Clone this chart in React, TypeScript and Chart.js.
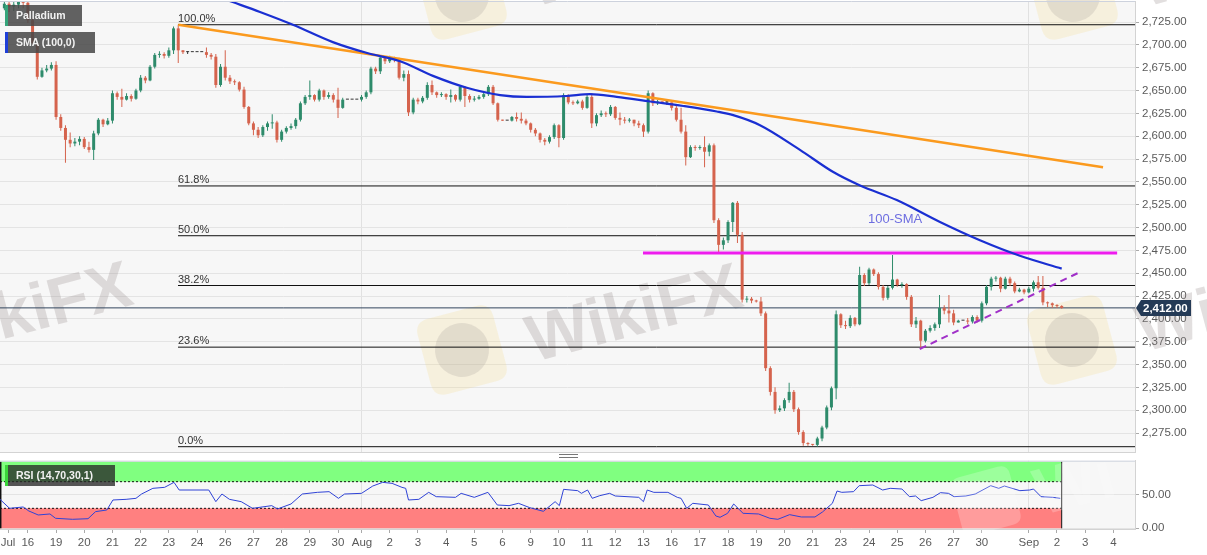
import React, { useEffect, useRef } from 'react';
import { Chart, registerables } from 'chart.js';

Chart.register(...registerables);

const FONT = '"Liberation Sans", Arial, Helvetica, sans-serif';

// ---------------- data (4-hour candles, index = candle number) ----------------
const firstOpen = 2740;
const closes = [
  2745, 2742, 2744, 2748, 2746, 2727, 2702, 2665, 2672, 2674,
  2678, 2621, 2609, 2596, 2592, 2594, 2597, 2588, 2585, 2603,
  2618, 2613, 2617, 2647, 2643, 2640, 2644, 2641, 2650, 2664,
  2661, 2676, 2689, 2690, 2688, 2694, 2718, 2694, 2692, 2692,
  2692, 2692, 2692, 2689, 2687, 2656, 2676, 2664, 2660, 2659,
  2651, 2632, 2614, 2607, 2601, 2610, 2614, 2615, 2596, 2605,
  2609, 2611, 2618, 2636, 2643, 2645, 2640, 2650, 2643, 2645,
  2640, 2631, 2640, 2640, 2640, 2640, 2643, 2648, 2674, 2671,
  2686, 2682, 2685, 2684, 2664, 2668, 2626, 2640, 2638, 2642,
  2656, 2648, 2645, 2646, 2643, 2645, 2640, 2654, 2644, 2640,
  2641, 2643, 2646, 2654, 2636, 2618, 2617, 2617, 2621, 2619,
  2617, 2614, 2607, 2603, 2596, 2594, 2599, 2612, 2598, 2645,
  2637, 2636, 2638, 2631, 2643, 2614, 2623, 2625, 2624, 2632,
  2620, 2618, 2617, 2618, 2614, 2612, 2605, 2647, 2636, 2638,
  2637, 2637, 2631, 2618, 2605, 2577, 2588, 2587, 2588, 2583,
  2590, 2508, 2481, 2486, 2506, 2527, 2492, 2421, 2422, 2420,
  2419, 2406, 2346, 2320, 2300, 2302, 2311, 2320, 2301, 2276,
  2264, 2263, 2262, 2269, 2281, 2303, 2324, 2405, 2393, 2392,
  2401, 2394, 2448, 2439, 2454, 2449, 2435, 2423, 2434, 2443,
  2437, 2438, 2424, 2394, 2398, 2376, 2387, 2390, 2394, 2412,
  2409, 2406, 2396, 2398, 2398, 2397, 2402, 2398, 2417, 2435,
  2444, 2445, 2433, 2444, 2439, 2430, 2432, 2429, 2433, 2440,
  2434, 2418, 2417, 2415, 2414, 2412,
];
const highs = [
  2752, 2750, 2752, 2756, 2755, 2750, 2729, 2703, 2675, 2678,
  2681, 2682, 2624, 2612, 2604, 2598, 2600, 2599, 2594, 2606,
  2620, 2619, 2620, 2650, 2649, 2652, 2647, 2646, 2652, 2667,
  2666, 2678, 2691, 2693, 2692, 2697, 2720, 2722, 2694, 2693,
  2692, 2692, 2692, 2697, 2691, 2690, 2679, 2694, 2667, 2662,
  2660, 2654, 2633, 2616, 2610, 2612, 2616, 2624, 2617, 2607,
  2611, 2614, 2620, 2638, 2645, 2661, 2646, 2652, 2651, 2648,
  2647, 2653, 2642, 2640, 2640, 2640, 2645, 2650, 2676, 2676,
  2688, 2687, 2688, 2687, 2686, 2672, 2672, 2642, 2642, 2644,
  2659, 2661, 2649, 2648, 2647, 2651, 2646, 2656, 2655, 2646,
  2644, 2645, 2648, 2656, 2656, 2637, 2618, 2617, 2622, 2626,
  2626, 2619, 2615, 2609, 2604, 2598, 2601, 2614, 2613, 2647,
  2646, 2639, 2640, 2640, 2645, 2647, 2625, 2628, 2627, 2634,
  2633, 2626, 2621, 2620, 2618, 2617, 2614, 2650, 2648, 2640,
  2638, 2640, 2637, 2633, 2631, 2612, 2590, 2590, 2590, 2600,
  2592, 2592, 2510, 2489, 2508, 2528, 2529, 2495, 2425, 2424,
  2421, 2424, 2408, 2348, 2325, 2305, 2313, 2330, 2322, 2303,
  2278, 2265, 2263, 2271, 2283, 2305, 2326, 2409, 2406, 2398,
  2404, 2402, 2457, 2450, 2456, 2455, 2451, 2437, 2436, 2470,
  2444, 2440, 2439, 2426, 2402, 2399, 2389, 2393, 2396, 2426,
  2415, 2426, 2410, 2399, 2398, 2401, 2404, 2404, 2419, 2437,
  2446, 2447, 2446, 2446, 2446, 2441, 2434, 2433, 2435, 2442,
  2447, 2447, 2419, 2418, 2416, 2415,
];
const lows = [
  2738, 2736, 2737, 2740, 2740, 2724, 2700, 2662, 2664, 2670,
  2672, 2618, 2606, 2571, 2588, 2589, 2590, 2586, 2582, 2574,
  2601, 2610, 2612, 2614, 2640, 2632, 2639, 2638, 2640, 2648,
  2658, 2660, 2674, 2686, 2685, 2686, 2690, 2680, 2690, 2690,
  2692, 2692, 2692, 2686, 2684, 2653, 2654, 2661, 2657, 2656,
  2649, 2630, 2612, 2601, 2598, 2599, 2606, 2608, 2593, 2594,
  2603, 2607, 2608, 2616, 2634, 2640, 2638, 2638, 2640, 2641,
  2637, 2620, 2630, 2640, 2640, 2640, 2638, 2641, 2646, 2668,
  2668, 2679, 2680, 2681, 2662, 2660, 2622, 2624, 2635, 2636,
  2640, 2645, 2642, 2643, 2640, 2637, 2638, 2638, 2632, 2637,
  2638, 2640, 2641, 2644, 2634, 2616, 2617, 2617, 2616, 2616,
  2614, 2612, 2604, 2600, 2593, 2590, 2592, 2597, 2588, 2596,
  2635, 2634, 2635, 2629, 2630, 2609, 2611, 2621, 2621, 2622,
  2618, 2612, 2614, 2615, 2611, 2609, 2599, 2603, 2633, 2634,
  2636, 2634, 2628, 2616, 2603, 2568, 2576, 2584, 2585, 2566,
  2578, 2505, 2473, 2476, 2483, 2495, 2483, 2418, 2418, 2417,
  2418, 2403, 2343, 2316, 2296, 2298, 2299, 2308, 2298, 2273,
  2261, 2261, 2261, 2260, 2266, 2279, 2300, 2312, 2390, 2389,
  2390, 2392, 2393, 2436, 2437, 2447, 2432, 2420, 2421, 2432,
  2435, 2434, 2421, 2391, 2390, 2368, 2374, 2385, 2387, 2390,
  2405, 2396, 2393, 2396, 2398, 2394, 2395, 2396, 2396, 2415,
  2431, 2441, 2429, 2432, 2436, 2428, 2429, 2427, 2428, 2430,
  2432, 2415, 2413, 2412, 2412, 2411,
];

// 100-period SMA at a set of candle positions
const smaIdx = [41.6, 47.4, 54.4, 61.4, 69.9, 77.2, 84.2, 91.2, 98.4, 105.5, 111.1, 119.6, 124.6, 130.3, 137.4, 144.5, 151.6, 155.1, 160.8, 169.3, 176.3, 182.1, 189.9, 199.1, 207.6, 216.1, 225.0];
const smaVal = [2760, 2749, 2736, 2722, 2703, 2691, 2682, 2666, 2653, 2645, 2643, 2644, 2646, 2643, 2638, 2633, 2627, 2623, 2612, 2585, 2561, 2546, 2530, 2506, 2486, 2469, 2455];

// RSI(14)
const rsiIdx = [-0.93, 1.1, 4.0, 5.2, 7.2, 9.7, 10.9, 14.5, 17.8, 19.4, 21.8, 23.1, 25.9, 28.0, 29.2, 31.6, 34.1, 36.1, 37.2, 43.5, 45.0, 46.3, 47.9, 50.4, 52.8, 56.9, 58.1, 61.0, 63.4, 66.6, 69.1, 71.1, 72.4, 76.0, 78.4, 80.5, 82.5, 84.6, 85.4, 86.0, 88.2, 90.3, 91.9, 96.0, 97.2, 100.0, 102.9, 104.9, 107.4, 109.4, 111.8, 114.7, 117.2, 118.1, 119.0, 122.0, 122.8, 124.1, 125.1, 126.7, 128.8, 130.0, 135.0, 136.0, 136.8, 138.2, 141.2, 143.2, 144.0, 145.2, 146.5, 149.8, 151.4, 152.3, 153.9, 155.2, 157.2, 160.5, 162.9, 164.6, 167.1, 169.6, 172.5, 174.1, 176.2, 177.2, 178.2, 180.7, 181.9, 184.8, 186.9, 188.5, 191.0, 192.6, 193.9, 195.1, 197.6, 199.2, 200.9, 202.1, 204.6, 206.6, 209.9, 211.6, 212.8, 216.1, 218.2, 219.0, 220.6, 223.1, 224.7];
const rsiVal = [43.5, 30, 32, 26, 20, 21.5, 15, 13.5, 14.4, 25, 27.5, 42.5, 43.5, 45, 51.5, 60, 61.5, 69, 57.5, 57.5, 40, 51.5, 43.5, 40, 30, 34, 29, 36.5, 51.5, 54, 55, 45, 51.5, 52.5, 63.5, 69, 67.5, 61.5, 60, 42.5, 43.5, 54, 47.5, 46.5, 52.5, 46.5, 54, 35, 34, 37.5, 31, 25.5, 40, 34, 58.5, 56.5, 52.5, 57.5, 45, 49, 52.5, 48.5, 46.5, 40, 57.5, 54, 54, 46.5, 45, 30, 37.5, 35, 18.5, 16.5, 22.5, 36.5, 22.5, 21.5, 15, 13.5, 20.5, 17, 17, 24.5, 37.5, 56, 54, 55, 64, 65, 57.5, 60, 59, 47.5, 48.5, 41.5, 46.5, 53.5, 52.5, 47.5, 48.5, 51.5, 64, 60, 63.5, 56.5, 57.5, 59, 47.5, 46.5, 45];

// Fibonacci retracement
const fibLevels = [2722, 2545.5, 2491, 2436.5, 2369, 2260];
const fibLabels = ['100.0%', '61.8%', '50.0%', '38.2%', '23.6%', '0.0%'];
const fibStartIdx = 36.95;

// drawn lines [candle index, price]
const trendLine = [[37, 2722], [233.8, 2566]];
const resistLine = [[135.9, 2472], [236.8, 2472]];
const supportLine = [[194.8, 2367], [228.4, 2450]];
const smaLabelAt = [183.8, 2509];
const lastPrice = 2412;

// axes
const yTicks = [2275, 2300, 2325, 2350, 2375, 2400, 2425, 2450, 2475, 2500, 2525, 2550, 2575, 2600, 2625, 2650, 2675, 2700, 2725];
const rsiTicks = [0, 50];
const rsiUpper = 70;
const rsiLower = 30;
const rsiBandEnd = 225;
const dateTickPos = [0.78, 5, 11, 17, 23, 29, 35, 41, 47, 53, 59, 65, 71, 76.1, 82, 88, 94, 100, 106, 112, 118, 124, 130, 136, 142, 148, 154, 160, 166, 172, 178, 184, 190, 196, 202, 208, 218, 224, 230, 236];
const dateTickLbl = ['Jul', '16', '19', '20', '21', '22', '23', '24', '26', '27', '28', '29', '30', 'Aug', '2', '3', '4', '5', '6', '9', '10', '11', '12', '13', '16', '17', '18', '19', '20', '21', '23', '24', '25', '26', '27', '30', 'Sep', '2', '3', '4'];
const monthTickPos = [76.1, 218];
const xMin = -0.93;
const xMax = 240.6;
const priceMin = 2254.2;
const priceMax = 2748;
const rsiMin = -1.05;
const rsiMax = 101.5;

// ---------------- styling ----------------
const UP = '#2e8b6b';
const DOWN = '#d5634d';
const FLAT = '#333333';
const PLOT_BG = '#f7f7f7';
const GRID = '#e4e4e4';
const LABEL = '#5a5a5a';

const fmt = (v: number) => Number(v).toLocaleString('en-US', { minimumFractionDigits: 2, maximumFractionDigits: 2 });

function roundRect(ctx: CanvasRenderingContext2D, x: number, y: number, w: number, h: number, r: number) {
  ctx.beginPath();
  ctx.moveTo(x + r, y);
  ctx.lineTo(x + w - r, y);
  ctx.quadraticCurveTo(x + w, y, x + w, y + r);
  ctx.lineTo(x + w, y + h - r);
  ctx.quadraticCurveTo(x + w, y + h, x + w - r, y + h);
  ctx.lineTo(x + r, y + h);
  ctx.quadraticCurveTo(x, y + h, x, y + h - r);
  ctx.lineTo(x, y + r);
  ctx.quadraticCurveTo(x, y, x + r, y);
  ctx.closePath();
}

function drawWatermark(ctx: CanvasRenderingContext2D, cx: number, cy: number) {
  ctx.save();
  ctx.translate(cx, cy);
  ctx.rotate(-0.26);
  ctx.fillStyle = 'rgba(245, 215, 120, 0.2)';
  roundRect(ctx, -39, -39, 78, 78, 14);
  ctx.fill();
  ctx.fillStyle = 'rgba(150, 140, 140, 0.2)';
  ctx.beginPath();
  ctx.arc(0, 0, 27, 0, Math.PI * 2);
  ctx.fill();
  ctx.fillStyle = 'rgba(150, 140, 140, 0.28)';
  ctx.font = `bold 66px ${FONT}`;
  ctx.textBaseline = 'middle';
  ctx.textAlign = 'left';
  ctx.fillText('WikiFX', 66, 12);
  ctx.restore();
}

const watermarkSpots = [[-148, 348], [462, 350], [1072, 340], [462, -5], [1073, -5]];

const mainDeco: any = {
  id: 'mainDeco',
  beforeDraw(chart: any) {
    const { ctx, chartArea: a } = chart;
    ctx.save();
    ctx.fillStyle = PLOT_BG;
    ctx.fillRect(a.left, a.top, a.right - a.left, a.bottom - a.top);
    ctx.restore();
  },
  beforeDatasetsDraw(chart: any) {
    const { ctx } = chart;
    watermarkSpots.forEach(([x, y]) => drawWatermark(ctx, x, y));
  },
  afterDatasetsDraw(chart: any) {
    const { ctx, chartArea: a, scales } = chart;
    const x = scales.x;
    const y = scales.y;
    ctx.save();
    ctx.font = `11px ${FONT}`;
    ctx.fillStyle = '#333';
    ctx.textAlign = 'left';
    ctx.textBaseline = 'alphabetic';
    fibLevels.forEach((l, i) => {
      ctx.fillText(fibLabels[i], x.getPixelForValue(fibStartIdx), y.getPixelForValue(l) - 3);
    });
    ctx.font = `13px ${FONT}`;
    ctx.fillStyle = '#6d6de0';
    ctx.textBaseline = 'middle';
    ctx.fillText('100-SMA', x.getPixelForValue(smaLabelAt[0]), y.getPixelForValue(smaLabelAt[1]));
    ctx.strokeStyle = '#cdd2dd';
    ctx.lineWidth = 1;
    ctx.beginPath();
    ctx.moveTo(a.left, a.top + 0.5);
    ctx.lineTo(a.right, a.top + 0.5);
    ctx.stroke();
    ctx.restore();
  },
  afterDraw(chart: any) {
    const { ctx, chartArea: a, scales } = chart;
    const py = Math.round(scales.y.getPixelForValue(lastPrice));
    ctx.save();
    ctx.fillStyle = '#243a56';
    ctx.beginPath();
    ctx.moveTo(a.right + 1, py);
    ctx.lineTo(a.right + 6, py - 8);
    ctx.lineTo(a.right + 56, py - 8);
    ctx.lineTo(a.right + 56, py + 8);
    ctx.lineTo(a.right + 6, py + 8);
    ctx.closePath();
    ctx.fill();
    ctx.fillStyle = '#ffffff';
    ctx.font = `bold 11.5px ${FONT}`;
    ctx.textBaseline = 'middle';
    ctx.textAlign = 'left';
    ctx.fillText(fmt(lastPrice), a.right + 8, py + 0.5);
    ctx.restore();
  },
};

const rsiDeco: any = {
  id: 'rsiDeco',
  beforeDraw(chart: any) {
    const { ctx, chartArea: a } = chart;
    ctx.save();
    ctx.fillStyle = PLOT_BG;
    ctx.fillRect(a.left, a.top, a.right - a.left, a.bottom - a.top);
    ctx.restore();
  },
  afterDatasetsDraw(chart: any) {
    const { ctx, chartArea: a } = chart;
    ctx.save();
    ctx.translate(986, 46);
    ctx.rotate(-0.26);
    ctx.fillStyle = 'rgba(255,255,255,0.22)';
    roundRect(ctx, -30, -30, 60, 60, 10);
    ctx.fill();
    ctx.font = `bold 66px ${FONT}`;
    ctx.textBaseline = 'middle';
    ctx.fillText('Wi', 50, 10);
    ctx.restore();
    ctx.save();
    ctx.strokeStyle = '#cdd2dd';
    ctx.lineWidth = 1;
    ctx.beginPath();
    ctx.moveTo(a.left, a.top + 0.5);
    ctx.lineTo(a.right, a.top + 0.5);
    ctx.stroke();
    ctx.restore();
  },
};

const pts = (a: number[][]) => a.map(([x, y]) => ({ x, y }));

const lineDs = (data: any[], color: string, width: number, order: number, dash: number[] = []) => ({
  type: 'line',
  data,
  borderColor: color,
  borderWidth: width,
  borderDash: dash,
  pointRadius: 0,
  pointHoverRadius: 0,
  fill: false,
  tension: 0,
  order,
});

function mainConfig(): any {
  const opens = closes.map((_, i) => (i === 0 ? firstOpen : closes[i - 1]));
  const colors = closes.map((c, i) => (c > opens[i] ? UP : c < opens[i] ? DOWN : FLAT));
  const bodies = closes.map((c, i) => ({ x: i, y: [opens[i], c] }));
  const wicks = closes.map((_, i) => ({ x: i, y: [lows[i], highs[i]] }));
  const sma = smaIdx.map((x, i) => ({ x, y: smaVal[i] }));
  return {
    type: 'bar',
    data: {
      datasets: [
        { ...lineDs(sma, '#1a2fd2', 2.2, 0), tension: 0.4, cubicInterpolationMode: 'monotone' },
        lineDs(pts(trendLine), '#fb9a1e', 2.5, 0),
        lineDs(pts(resistLine), '#ee1cee', 3, 0),
        lineDs(pts(supportLine), '#a030c8', 2, 0, [7, 5]),
        {
          type: 'bar', data: bodies, backgroundColor: colors, borderWidth: 0,
          barThickness: 3, minBarLength: 1, grouped: false, inflateAmount: 0, order: 1,
        },
        {
          type: 'bar', data: wicks, backgroundColor: colors, borderWidth: 0,
          barThickness: 1, grouped: false, inflateAmount: 0, order: 2,
        },
        ...fibLevels.map((l) => lineDs([{ x: fibStartIdx, y: l }, { x: xMax, y: l }], '#111111', 1, 3)),
        lineDs([{ x: xMin, y: lastPrice }, { x: xMax, y: lastPrice }], '#33465e', 1, 3),
      ],
    },
    options: {
      responsive: false,
      animation: false,
      events: [],
      layout: { padding: { top: 1, bottom: 1, left: 0, right: 0 } },
      plugins: { legend: { display: false }, tooltip: { enabled: false } },
      scales: {
        x: {
          type: 'linear', min: xMin, max: xMax, offset: false,
          grid: { offset: false, color: '#e1e1e1', drawTicks: false },
          border: { display: true, color: '#d3d3d3' },
          ticks: { display: false },
          afterBuildTicks: (s: any) => { s.ticks = monthTickPos.map((v) => ({ value: v })); },
        },
        y: {
          type: 'linear', position: 'right', min: priceMin, max: priceMax, beginAtZero: false,
          grid: { color: GRID, tickLength: 4, tickColor: '#aaaaaa' },
          border: { display: true, color: '#d3d3d3' },
          ticks: { color: LABEL, font: { size: 11.5, family: FONT }, padding: 3, callback: (v: number) => fmt(v) },
          afterBuildTicks: (s: any) => { s.ticks = yTicks.map((v) => ({ value: v })); },
          afterFit: (s: any) => { s.width = 72; s.paddingTop = 0; s.paddingBottom = 0; },
        },
      },
    },
    plugins: [mainDeco],
  };
}

function rsiConfig(): any {
  const band = (v: number) => [{ x: xMin, y: v }, { x: rsiBandEnd, y: v }];
  return {
    type: 'line',
    data: {
      datasets: [
        { data: rsiIdx.map((x, i) => ({ x, y: rsiVal[i] })), borderColor: '#2f43d6', borderWidth: 1, pointRadius: 0, fill: false, tension: 0, order: 0 },
        lineDs(band(rsiUpper), '#111111', 1, 2, [2, 2]),
        lineDs(band(rsiLower), '#111111', 1, 2, [2, 2]),
        lineDs([{ x: rsiBandEnd, y: 0 }, { x: rsiBandEnd, y: 100 }], '#111111', 1, 2),
        lineDs([{ x: xMin + 0.15, y: 0 }, { x: xMin + 0.15, y: 100 }], '#111111', 1.5, 2),
        { data: band(100), borderWidth: 0, pointRadius: 0, fill: { value: rsiUpper }, backgroundColor: '#80ff80', order: 5 },
        { data: band(rsiLower), borderWidth: 0, pointRadius: 0, fill: { value: 0 }, backgroundColor: '#ff8080', order: 5 },
      ],
    },
    options: {
      responsive: false,
      animation: false,
      events: [],
      layout: { padding: { top: 5.7, bottom: 0, left: 0, right: 0 } },
      plugins: { legend: { display: false }, tooltip: { enabled: false } },
      scales: {
        x: {
          type: 'linear', min: xMin, max: xMax, offset: false,
          grid: {
            offset: false,
            color: (c: any) => (c.tick && monthTickPos.includes(c.tick.value) ? '#e1e1e1' : 'rgba(0,0,0,0)'),
            tickColor: '#aaaaaa', tickLength: 4, drawTicks: true,
          },
          border: { display: true, color: '#d3d3d3' },
          ticks: {
            autoSkip: false, maxRotation: 0, minRotation: 0, color: LABEL, padding: 3,
            font: { size: 11.5, family: FONT },
            callback: (_v: number, i: number) => dateTickLbl[i] ?? '',
          },
          afterBuildTicks: (s: any) => { s.ticks = dateTickPos.map((v) => ({ value: v })); },
          afterFit: (s: any) => { s.height = 26; s.paddingLeft = 0; s.paddingRight = 0; },
        },
        y: {
          type: 'linear', position: 'right', min: rsiMin, max: rsiMax,
          grid: { color: GRID, tickLength: 4, tickColor: '#aaaaaa' },
          border: { display: true, color: '#d3d3d3' },
          ticks: { color: LABEL, font: { size: 11.5, family: FONT }, padding: 3, callback: (v: number) => Number(v).toFixed(2) },
          afterBuildTicks: (s: any) => { s.ticks = rsiTicks.map((v) => ({ value: v })); },
          afterFit: (s: any) => { s.width = 72; s.paddingTop = 0; s.paddingBottom = 0; },
        },
      },
    },
    plugins: [rsiDeco],
  };
}

const boxBase: React.CSSProperties = {
  position: 'absolute',
  height: 21,
  lineHeight: '21px',
  color: '#f2f2f2',
  fontFamily: FONT,
  fontWeight: 'bold',
  fontSize: 10.5,
  paddingLeft: 8,
  boxSizing: 'border-box',
  whiteSpace: 'nowrap',
};

export default function App() {
  const mainRef = useRef<HTMLCanvasElement>(null);
  const rsiRef = useRef<HTMLCanvasElement>(null);

  useEffect(() => {
    document.body.style.margin = '0';
    const main = new Chart(mainRef.current as HTMLCanvasElement, mainConfig());
    const rsi = new Chart(rsiRef.current as HTMLCanvasElement, rsiConfig());
    return () => {
      main.destroy();
      rsi.destroy();
    };
  }, []);

  return (
    <div style={{ position: 'relative', width: 1207, height: 555, background: '#ffffff', overflow: 'hidden' }}>
      <canvas ref={mainRef} width={1207} height={453} style={{ position: 'absolute', left: 0, top: 0, width: 1207, height: 453 }} />
      <canvas ref={rsiRef} width={1207} height={100} style={{ position: 'absolute', left: 0, top: 455, width: 1207, height: 100 }} />
      <div style={{ ...boxBase, left: 5, top: 5, width: 77, background: 'rgba(72,72,72,0.86)', borderLeft: '3px solid #35a47a' }}>Palladium</div>
      <div style={{ ...boxBase, left: 5, top: 32, width: 90, background: 'rgba(72,72,72,0.86)', borderLeft: '3px solid #1f3fd8' }}>SMA (100,0)</div>
      <div style={{ ...boxBase, left: 5, top: 465, width: 110, background: 'rgba(40,40,40,0.78)', borderLeft: '3px solid #3bd43b' }}>RSI (14,70,30,1)</div>
      <div style={{ position: 'absolute', left: 559, top: 454, width: 19, height: 2, borderTop: '1px solid #777', borderBottom: '1px solid #777' }} />
    </div>
  );
}
